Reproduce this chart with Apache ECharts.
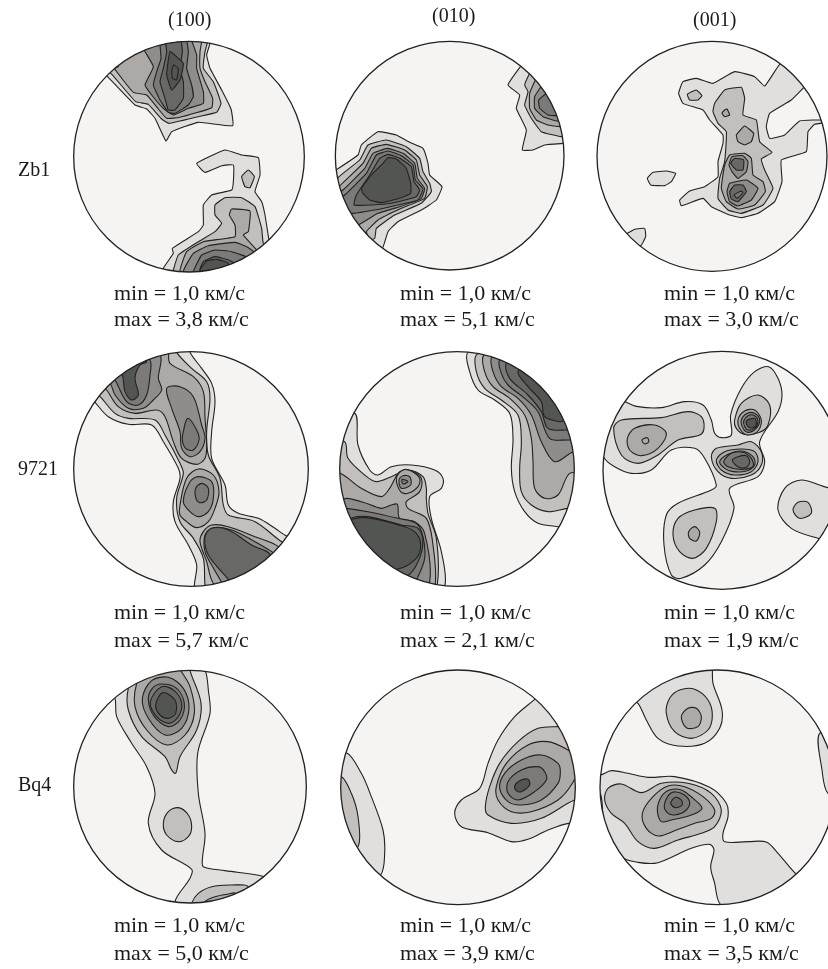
<!DOCTYPE html>
<html>
<head>
<meta charset="utf-8">
<title>Pole figures</title>
<script src="https://cdn.jsdelivr.net/npm/echarts@6/dist/echarts.min.js"></script>
<style>
html, body { margin: 0; padding: 0; background: #fff; }
#chart { width: 828px; height: 969px; }
</style>
</head>
<body>
<div id="chart"></div>
<script>
// column and row captions
const columnTitles = ['(100)', '(010)', '(001)'];
const rowLabels = ['Zb1', '9721', 'Bq4'];
const minValues = ['1,0', '1,0', '1,0', '1,0', '1,0', '1,0', '1,0', '1,0', '1,0'];
const maxValues = ['3,8', '5,1', '3,0', '5,7', '2,1', '1,9', '5,0', '3,9', '3,5'];

// contours: [level, [x, y], [x, y], ...] in each figure's own 0..750 axes
const zb1a = [
  [1, [125,122],[210,210],[245,222],[270,250],[303,318],[320,290],[400,262],[503,272],[498,222],[470,165],[435,100],[425,60],[435,25],[435,0],[200,0],[100,100]],
  [2, [135,112],[212,200],[250,208],[290,252],[312,265],[400,245],[455,232],[468,205],[445,140],[415,100],[420,50],[428,20],[428,0],[200,0],[110,100]],
  [3, [160,95],[148,100],[205,172],[245,180],[280,222],[305,250],[345,247],[440,218],[443,190],[420,140],[405,100],[405,50],[410,0],[200,0],[130,70]],
  [4, [240,150],[265,95],[235,40],[235,0],[370,0],[395,60],[395,100],[415,170],[415,205],[370,220],[325,240],[295,220],[260,180]],
  [5, [285,0],[288,70],[275,110],[265,150],[285,195],[310,232],[330,235],[370,210],[385,185],[380,150],[365,100],[370,50],[360,0]],
  [6, [300,0],[305,50],[295,100],[285,140],[300,190],[310,225],[330,225],[355,190],[355,140],[345,100],[352,50],[345,0]],
  [7, [315,50],[355,85],[345,135],[320,165],[305,120],[308,90]],
  [7, [325,90],[340,100],[335,135],[322,130],[320,110]],
  [1, [295,700],[325,655],[322,640],[400,590],[415,570],[415,510],[440,480],[500,465],[505,440],[505,390],[470,392],[420,412],[395,385],[480,345],[530,360],[580,368],[585,420],[570,470],[590,500],[600,540],[612,615],[620,640],[500,780],[295,730]],
  [2, [530,425],[550,405],[568,425],[555,458],[540,455]],
  [2, [325,705],[340,660],[400,620],[450,590],[470,565],[450,540],[450,510],[480,488],[530,488],[570,515],[590,580],[595,625],[620,640],[500,780],[320,730]],
  [3, [345,710],[365,650],[415,620],[510,605],[510,570],[493,540],[500,522],[555,528],[550,590],[535,600],[575,645],[600,700],[400,760]],
  [4, [355,710],[385,655],[430,632],[510,622],[545,635],[565,650],[560,720],[400,760]],
  [5, [385,710],[410,660],[450,645],[500,650],[550,670],[500,760],[380,760]],
  [6, [405,705],[415,680],[450,665],[490,675],[515,690],[480,760]],
  [7, [405,705],[425,678],[455,673],[490,685],[470,750],[400,750]]
];
const zb1b = [
  [1, [577,95],[540,150],[575,180],[565,220],[595,285],[583,345],[615,345],[650,330],[710,325],[760,320],[760,150],[600,70]],
  [2, [605,115],[590,150],[600,170],[590,210],[610,250],[640,290],[700,305],[760,300],[760,150],[620,90]],
  [3, [622,135],[605,175],[605,220],[625,255],[660,270],[697,275],[760,280],[760,150],[640,100]],
  [4, [640,155],[620,185],[620,220],[645,245],[695,260],[760,260],[700,130]],
  [5, [655,175],[632,195],[635,220],[660,240],[690,242],[760,240],[700,150]],
  [1, [27,403],[90,360],[100,330],[150,290],[205,300],[245,322],[285,340],[300,385],[305,420],[342,455],[325,495],[280,525],[210,560],[180,590],[163,640],[120,650],[0,500],[0,420]],
  [2, [30,428],[95,375],[120,330],[175,315],[235,335],[275,370],[285,410],[305,445],[310,470],[280,505],[200,540],[145,580],[140,610],[100,620],[0,500]],
  [3, [38,450],[105,385],[130,340],[175,328],[230,345],[265,375],[275,420],[298,455],[290,490],[220,520],[150,555],[115,590],[118,600],[90,610],[0,500]],
  [4, [45,465],[110,400],[135,355],[178,340],[225,355],[260,385],[268,430],[290,460],[280,490],[215,515],[150,535],[90,570],[60,570],[0,500]],
  [5, [50,480],[115,415],[145,360],[180,348],[220,362],[255,390],[262,435],[285,462],[270,495],[200,512],[140,525],[75,535],[40,530],[20,500]],
  [6, [78,510],[85,480],[125,420],[155,370],[180,358],[215,370],[250,395],[258,440],[275,465],[265,485],[190,505],[130,510]],
  [7, [100,460],[130,420],[165,385],[180,368],[205,372],[235,400],[248,445],[248,475],[215,490],[160,503],[125,495],[105,475]]
];
const zb1c = [
  [1, [605,88],[560,153],[530,125],[470,110],[405,145],[355,130],[315,140],[302,175],[315,205],[375,225],[395,255],[435,300],[435,325],[420,380],[420,425],[380,455],[335,468],[305,495],[310,512],[375,490],[400,515],[455,540],[490,548],[540,535],[590,500],[612,440],[610,375],[685,350],[690,290],[710,268],[745,262],[745,255],[665,258],[620,300],[575,310],[565,275],[575,235],[640,195],[680,155],[710,130],[650,70]],
  [1, [208,430],[225,412],[265,408],[293,415],[280,440],[260,452],[218,450]],
  [1, [148,595],[170,583],[200,580],[203,605],[188,632],[140,640],[130,600]],
  [2, [328,178],[355,165],[372,182],[360,195],[335,195]],
  [2, [405,230],[410,205],[440,165],[490,157],[500,190],[495,240],[535,255],[545,320],[582,352],[550,372],[560,405],[585,460],[555,510],[490,535],[450,525],[420,490],[425,430],[440,380],[445,290],[420,265]],
  [3, [440,225],[447,222],[455,240],[440,245],[432,235]],
  [3, [475,300],[500,273],[527,295],[520,320],[500,330],[480,320]],
  [3, [430,460],[440,390],[455,360],[500,355],[520,370],[525,420],[555,440],[562,470],[530,510],[480,522],[445,500]],
  [4, [453,390],[462,365],[495,362],[510,380],[505,410],[480,430],[462,410]],
  [4, [447,470],[455,445],[505,435],[540,460],[520,495],[480,513],[455,500]],
  [6, [458,385],[470,370],[497,375],[495,405],[475,405]],
  [6, [455,470],[470,450],[495,450],[505,470],[480,500],[460,492]],
  [5, [468,480],[490,468],[495,473],[478,490]]
];
const q9721a = [
  [1, [70,150],[90,172],[130,215],[190,238],[260,240],[295,290],[340,370],[345,400],[325,470],[330,530],[370,600],[395,660],[388,725],[400,760],[700,700],[690,580],[663,572],[630,550],[580,520],[520,505],[490,480],[480,420],[440,340],[440,260],[450,170],[440,115],[410,70],[375,22],[375,0],[200,0]],
  [2, [80,140],[105,155],[150,205],[190,220],[270,225],[300,270],[345,355],[355,385],[335,460],[345,530],[385,580],[415,640],[420,720],[430,760],[690,680],[680,600],[650,590],[570,530],[490,510],[475,480],[465,400],[430,330],[425,260],[435,160],[425,110],[380,70],[335,22],[335,0],[200,0]],
  [3, [100,110],[125,135],[160,185],[210,205],[275,195],[300,215],[325,290],[350,340],[395,358],[420,340],[425,300],[420,220],[415,140],[385,95],[315,55],[310,22],[300,0],[200,0]],
  [3, [345,480],[365,400],[400,372],[445,390],[462,440],[450,490],[430,530],[395,548],[365,530],[345,510]],
  [4, [355,470],[375,410],[400,395],[440,410],[445,460],[430,500],[400,515],[375,500]],
  [5, [392,430],[410,415],[430,430],[425,465],[405,473],[393,460]],
  [4, [135,115],[150,150],[190,190],[235,190],[265,165],[290,135],[280,100],[285,30],[200,0],[100,100]],
  [5, [150,105],[185,170],[220,180],[245,150],[255,90],[255,45],[200,0],[120,70]],
  [7, [172,90],[180,140],[200,165],[220,150],[210,100],[225,60],[245,50],[200,20],[150,60]],
  [4, [305,130],[345,125],[385,155],[410,240],[420,280],[405,320],[375,335],[350,310],[345,260],[320,190]],
  [5, [355,260],[368,220],[395,255],[402,285],[385,315],[362,310],[352,285]],
  [3, [415,560],[440,540],[490,545],[570,575],[640,605],[700,680],[500,760],[445,715],[425,650],[405,590]],
  [4, [420,570],[445,548],[500,555],[570,590],[620,620],[700,680],[500,760],[470,712],[440,660],[420,620]],
  [6, [420,575],[440,550],[490,555],[560,600],[615,632],[520,740],[490,703],[430,630]]
];
const q9721b = [
  [1, [420,22],[425,80],[450,135],[500,165],[545,205],[555,280],[550,370],[560,440],[590,500],[630,535],[690,545],[760,560],[780,300],[520,0]],
  [2, [447,28],[445,80],[470,130],[520,165],[570,210],[580,290],[575,370],[580,440],[610,480],[660,500],[720,490],[770,490],[780,200],[550,0]],
  [3, [468,30],[470,80],[495,125],[545,160],[590,210],[610,280],[615,350],[620,430],[650,460],[690,450],[725,385],[780,380],[780,200],[550,0]],
  [4, [492,35],[495,80],[520,125],[570,160],[610,210],[640,290],[680,350],[735,320],[780,310],[780,180],[560,0]],
  [5, [515,45],[520,85],[540,120],[590,160],[630,200],[665,280],[725,285],[780,290],[780,180],[580,10]],
  [6, [535,55],[545,100],[600,150],[640,200],[660,250],[715,255],[770,250],[720,120],[590,20]],
  [7, [570,80],[600,125],[640,170],[650,215],[695,230],[705,228],[760,200],[700,100],[620,50]],
  [1, [80,205],[90,300],[125,375],[150,390],[190,365],[250,360],[320,375],[345,400],[340,430],[305,455],[310,520],[340,620],[350,725],[300,760],[0,600],[0,250]],
  [2, [50,290],[60,340],[110,390],[145,410],[190,395],[240,375],[285,395],[295,430],[295,460],[300,505],[325,580],[328,718],[300,760],[0,600],[0,290]],
  [3, [37,385],[100,430],[160,455],[185,430],[215,380],[250,378],[280,400],[275,440],[235,470],[240,490],[295,520],[315,600],[322,715],[300,760],[0,600],[0,385]],
  [4, [45,465],[100,470],[160,490],[190,480],[208,478],[215,520],[260,530],[290,565],[305,710],[260,760],[0,600]],
  [5, [55,490],[120,500],[210,520],[265,535],[285,575],[290,640],[268,700],[240,760],[0,600],[30,490]],
  [6, [70,520],[120,515],[220,540],[270,550],[285,590],[270,650],[238,692],[120,720],[40,560]],
  [7, [75,522],[115,518],[230,545],[265,565],[278,600],[265,640],[210,672],[100,680],[40,540]],
  [3, [205,400],[225,375],[250,378],[275,400],[270,425],[240,445],[218,440]],
  [4, [213,405],[225,392],[245,395],[248,420],[220,430]],
  [5, [222,403],[240,410],[225,417]]
];
const q9721c = [
  [1, [142,170],[180,185],[250,188],[320,170],[375,180],[400,225],[410,265],[430,278],[460,270],[458,210],[490,130],[530,80],[572,65],[600,100],[612,150],[600,200],[545,290],[560,350],[540,395],[455,430],[468,490],[430,590],[380,660],[310,700],[280,690],[258,600],[265,510],[300,475],[400,435],[415,420],[380,340],[350,310],[280,315],[220,375],[160,385],[110,365],[78,338],[40,250],[100,140]],
  [1, [720,580],[640,550],[600,495],[620,430],[670,405],[750,428],[800,430],[800,600]],
  [2, [107,250],[130,225],[250,218],[330,200],[370,215],[378,250],[365,270],[300,285],[240,330],[180,355],[130,330]],
  [2, [470,225],[490,175],[540,150],[575,180],[570,240],[545,262],[500,268],[475,250]],
  [2, [400,335],[415,310],[480,300],[520,290],[550,320],[550,360],[520,390],[460,400],[420,380]],
  [2, [285,570],[300,520],[350,495],[410,490],[415,530],[385,610],[345,640],[305,620]],
  [2, [645,495],[660,472],[690,472],[700,505],[665,520]],
  [3, [148,280],[170,250],[230,240],[265,265],[240,310],[190,332],[155,315]],
  [3, [332,560],[350,545],[365,562],[355,588],[335,580]],
  [3, [192,285],[208,278],[212,290],[200,297]],
  [3, [415,345],[440,320],[490,312],[530,320],[540,350],[520,380],[470,390],[430,375]],
  [4, [425,350],[450,328],[490,318],[525,335],[530,360],[505,378],[465,380],[440,370]],
  [5, [437,350],[460,325],[495,322],[520,340],[525,365],[490,373],[450,365]],
  [6, [463,345],[480,335],[505,332],[515,350],[505,367],[480,365]],
  [3, [480,225],[500,198],[530,195],[550,225],[540,258],[510,270],[488,255]],
  [4, [490,225],[508,205],[530,205],[545,225],[535,250],[510,262],[495,250]],
  [5, [497,228],[510,212],[530,212],[540,230],[530,250],[510,255],[500,245]],
  [7, [505,228],[530,220],[535,238],[525,248],[510,245]]
];
const bq4a = [
  [1, [150,115],[155,170],[200,250],[245,320],[270,400],[250,490],[290,570],[380,628],[375,655],[330,725],[350,770],[640,680],[598,650],[480,632],[415,620],[412,600],[420,520],[400,400],[398,280],[435,160],[430,90],[422,35],[400,0],[200,10],[130,90]],
  [2, [190,85],[190,150],[230,230],[300,290],[320,330],[332,340],[345,290],[395,210],[408,130],[375,32],[370,0],[220,20]],
  [2, [380,730],[400,700],[440,680],[500,675],[550,682],[500,780],[380,760]],
  [3, [420,725],[450,710],[490,702],[510,700],[470,760],[420,750]],
  [2, [295,490],[310,455],[340,443],[370,465],[380,500],[370,530],[340,545],[305,525]],
  [3, [215,70],[210,140],[245,210],[305,255],[360,225],[388,160],[375,80],[345,28],[330,0],[240,30]],
  [4, [232,115],[250,175],[300,225],[350,205],[372,145],[355,85],[310,52],[260,62]],
  [5, [250,120],[268,170],[310,200],[345,180],[358,130],[335,85],[290,72],[262,85]],
  [6, [256,125],[275,170],[312,190],[340,170],[350,130],[328,92],[290,80]],
  [7, [272,135],[293,98],[330,120],[332,160],[310,175],[285,165]]
];
const bq4b = [
  [1, [620,118],[560,170],[510,240],[480,310],[455,385],[400,420],[380,460],[400,500],[480,518],[550,545],[600,538],[660,510],[722,490],[780,490],[780,200],[650,90]],
  [2, [690,200],[630,205],[570,245],[515,310],[485,380],[472,440],[480,465],[550,490],[640,475],[740,420],[780,420],[780,200]],
  [3, [720,270],[660,245],[600,255],[535,310],[505,380],[510,420],[550,455],[610,455],[690,420],[733,370],[760,300]],
  [4, [690,310],[640,285],[580,300],[530,340],[515,385],[540,425],[580,435],[640,420],[690,370],[697,335]],
  [5, [650,335],[630,320],[580,330],[540,365],[540,400],[570,420],[620,395],[655,360]],
  [7, [560,378],[575,362],[600,358],[605,375],[580,395],[565,392]],
  [1, [55,278],[100,340],[130,410],[165,510],[170,580],[158,645],[80,700],[0,500],[0,300]],
  [2, [38,350],[70,400],[90,470],[90,560],[40,560],[0,400]]
];
const bq4c = [
  [1, [180,130],[205,180],[240,235],[300,258],[380,250],[425,205],[432,150],[405,70],[403,30],[400,0],[200,40],[150,110]],
  [2, [265,160],[275,115],[305,90],[350,88],[390,120],[403,165],[390,210],[340,235],[290,215]],
  [3, [310,170],[330,145],[355,145],[370,170],[360,200],[325,203]],
  [1, [725,220],[732,330],[750,400],[800,400],[800,250]],
  [1, [67,345],[100,332],[150,340],[210,352],[290,350],[395,382],[445,430],[450,470],[435,520],[440,545],[510,545],[565,546],[600,580],[652,640],[680,660],[500,770],[427,733],[410,670],[398,620],[408,570],[395,553],[340,565],[240,608],[180,607],[130,590],[80,500],[67,400],[40,400],[40,345]],
  [2, [80,420],[90,385],[130,372],[190,398],[250,370],[330,370],[400,400],[430,450],[410,500],[370,520],[300,540],[230,565],[180,545],[140,490],[100,460]],
  [3, [193,460],[225,410],[270,378],[320,380],[375,410],[410,450],[400,475],[350,490],[295,510],[240,528],[205,505]],
  [4, [238,450],[250,410],[275,390],[310,390],[345,415],[372,445],[340,465],[280,480],[250,485]],
  [5, [260,430],[280,398],[310,400],[335,425],[325,450],[290,465],[265,455]],
  [6, [278,430],[292,412],[310,420],[312,435],[292,443]]
];

const figures = [zb1a, zb1b, zb1c, q9721a, q9721b, q9721c, bq4a, bq4b, bq4c];
// outline of each figure in its own axes: [cx, cy, r]
const outlines = [[372,365,346],[365,362,343],[402,364,345],[378,372,352],[387,372,352],[432,376,357],[375,380,349],[390,382,352],[418,382,352]];

const levelColors = ['#f5f4f3', '#e0dfde', '#c3bfbc', '#ada9a6', '#8f8d8b', '#7b7a78', '#686866', '#535553'];
const figLeft = [65, 328, 578];
const figTop = [35, 345, 660];
const lineColor = '#222';

const chart = echarts.init(document.getElementById('chart'));
const grids = [], xAxes = [], yAxes = [], series = [], texts = [];

function addText(str, x, y, size) {
    texts.push({
        type: 'text', x: x, y: y,
        style: { text: str, fontFamily: 'Liberation Serif', fontSize: size, fill: '#1a1a1a', textAlign: 'left', textVerticalAlign: 'middle' }
    });
}

figures.forEach((contours, f) => {
    const col = f % 3, row = Math.floor(f / 3);
    const o = outlines[f];
    grids.push({ left: figLeft[col], top: figTop[row], width: 250, height: 250 });
    xAxes.push({ type: 'value', gridIndex: f, min: 0, max: 750, show: false });
    yAxes.push({ type: 'value', gridIndex: f, min: 0, max: 750, inverse: true, show: false });

    const discShape = api => {
        const c = api.coord([o[0], o[1]]);
        return { cx: c[0], cy: c[1], r: api.size([o[2], 0])[0] };
    };
    const base = { type: 'custom', coordinateSystem: 'cartesian2d', xAxisIndex: f, yAxisIndex: f, silent: true, animation: false };

    // white disc, contours, then the outline on top
    series.push(Object.assign({}, base, {
        z: 1, data: [0],
        renderItem: (params, api) => ({
            type: 'circle', shape: discShape(api), style: { fill: levelColors[0], stroke: null }
        })
    }));
    series.push(Object.assign({}, base, {
        z: 2, data: contours.map((c, i) => i),
        renderItem: (params, api) => {
            const c = contours[params.dataIndex];
            return {
                type: 'polygon',
                shape: { points: c.slice(1).map(p => api.coord(p)), smooth: row === 0 ? 0.12 : 0.33 },
                style: { fill: levelColors[c[0]], stroke: lineColor, lineWidth: 1.1 },
                clipPath: { type: 'circle', shape: discShape(api) }
            };
        }
    }));
    series.push(Object.assign({}, base, {
        z: 3, data: [0],
        renderItem: (params, api) => ({
            type: 'circle', shape: discShape(api), style: { fill: null, stroke: lineColor, lineWidth: 1.3 }
        })
    }));
});

const textX = [114, 400, 664];
const minY = [294, 613, 926];
const maxY = [320, 641, 954];
minValues.forEach((v, f) => {
    const col = f % 3, row = Math.floor(f / 3);
    addText('min = ' + v + ' км/с', textX[col], minY[row], 22);
    addText('max = ' + maxValues[f] + ' км/с', textX[col], maxY[row], 22);
});
[[168, 21], [432, 17], [693, 21]].forEach((p, i) => addText(columnTitles[i], p[0], p[1], 20));
[[18, 171], [18, 470], [18, 786]].forEach((p, i) => addText(rowLabels[i], p[0], p[1], 20));

chart.setOption({
    backgroundColor: '#fff',
    animation: false,
    grid: grids,
    xAxis: xAxes,
    yAxis: yAxes,
    series: series,
    graphic: { elements: texts }
});
window.addEventListener('resize', () => chart.resize());
</script>
</body>
</html>
